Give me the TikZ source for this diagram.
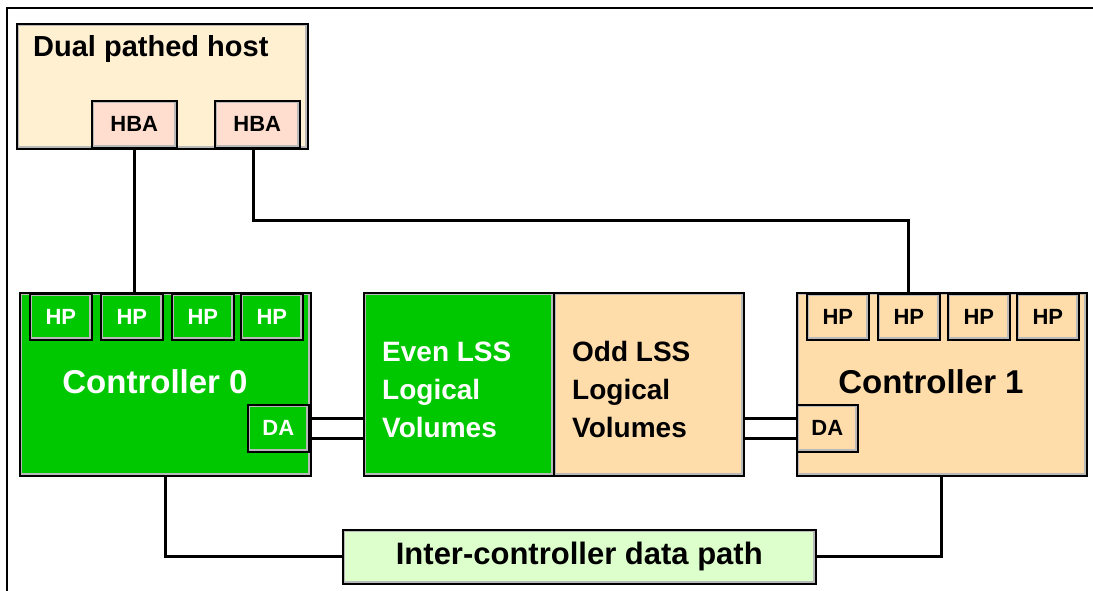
\documentclass[tikz,border=0pt]{standalone}
\usepackage{fontspec}
\setmainfont{Liberation Sans}
\usetikzlibrary{positioning,calc}
\definecolor{hostcream}{RGB}{255,240,210}
\definecolor{hbapink}{RGB}{255,222,208}
\definecolor{ctrlgreen}{RGB}{0,200,0}
\definecolor{ctrlpeach}{RGB}{255,221,170}
\definecolor{pathgreen}{RGB}{221,255,204}

\begin{document}
\begin{tikzpicture}[x=1pt,y=-1pt,
  box/.style={draw=black, line width=1.6pt, inner sep=0pt, anchor=north west,
    path picture={\draw[gray!55, line width=5pt] (path picture bounding box.south west) rectangle (path picture bounding box.north east);}},
  port/.style={box, minimum width=62pt, minimum height=46pt, font=\bfseries\fontsize{22}{25}\selectfont},
  bigtext/.style={inner sep=0pt, font=\bfseries\fontsize{33}{38}\selectfont},
  lvtext/.style={inner sep=0pt, anchor=north west, align=left, font=\bfseries\fontsize{28}{38}\selectfont},
  wire/.style={line width=3pt}]
\useasboundingbox (0,0) rectangle (1093,591);
% frame
\draw[line width=1.6pt] (1093,8) -- (7,8) -- (7,591);

% host
\node[box, fill=hostcream, minimum width=291pt, minimum height=125pt] (host) at (16,23) {};
\node[anchor=base west, inner sep=0pt, font=\bfseries\fontsize{29}{34}\selectfont] (hostname) at (33,57) {Dual pathed host};
\node[port, fill=hbapink, minimum width=85pt, minimum height=47pt] (hba0) at (91,100) {HBA};
\node[port, fill=hbapink, minimum width=85pt, minimum height=47pt] (hba1) at (214,100) {HBA};

% controllers
\node[box, fill=ctrlgreen, minimum width=291pt, minimum height=183pt] (ctrl0) at (19,292) {};
\node[box, fill=ctrlpeach, minimum width=290pt, minimum height=183pt] (ctrl1) at (796,292) {};
\foreach \x [count=\i] in {29,100,171,240}
    \node[port, fill=ctrlgreen, text=white] (hp0\i) at (\x,293) {HP};
\foreach \x [count=\i] in {806,877,947,1016}
    \node[port, fill=ctrlpeach] (hp1\i) at (\x,293) {HP};
\node[port, fill=ctrlgreen, text=white, minimum width=61pt, minimum height=47pt] (da0) at (247,404) {DA};
\node[port, fill=ctrlpeach, minimum width=61pt, minimum height=47pt] (da1) at (796,404) {DA};
\node[bigtext, text=white] (ctrl0name) at (155,382) {Controller 0};
\node[bigtext] (ctrl1name) at (931,382) {Controller 1};

% logical volumes
\node[box, fill=ctrlgreen, minimum width=190pt, minimum height=183pt] (even) at (363,292) {};
\node[box, fill=ctrlpeach, minimum width=190pt, minimum height=183pt] (odd) at (553,292) {};
\node[lvtext, text=white] (eventxt) at (382,342) {Even LSS\\Logical\\Volumes};
\node[lvtext] (oddtxt) at (572,341) {Odd LSS\\Logical\\Volumes};

% data path
\node[box, fill=pathgreen, minimum width=473pt, minimum height=54pt, font=\bfseries\fontsize{31}{36}\selectfont] (link) at (342,529) {Inter-controller data path};

% wires
\coordinate (hostbus) at (600,220);
\draw[wire] (hba0.south) -- (hba0.south |- ctrl0.north);
\draw[wire] ([xshift=-4pt]hba1.south) |- (hostbus) -| (hp12.north);
\draw[wire] (ctrl0.south) |- (link.west);
\draw[wire] (link.east) -| (ctrl1.south);
\foreach \dy in {10,-10} {
    \draw[wire] ([yshift=\dy pt]da0.east) -- ([yshift=\dy pt]da0.east -| even.west);
    \draw[wire] ([yshift=\dy pt]odd.east |- da1.west) -- ([yshift=\dy pt]da1.west);
}
\end{tikzpicture}
\end{document}
